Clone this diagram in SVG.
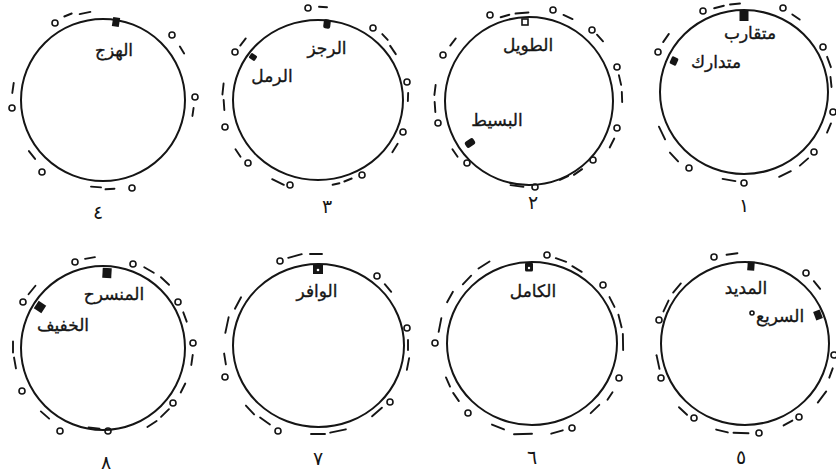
<svg xmlns="http://www.w3.org/2000/svg" width="836" height="474" viewBox="0 0 836 474">
<style>
.c{fill:none;stroke:#151515;stroke-width:2}
.o{fill:none;stroke:#151515;stroke-width:1.6}
.d{fill:none;stroke:#151515;stroke-width:1.9;stroke-linecap:round}
.m{fill:#151515}
.w{fill:#fff}
.t{font-family:"DejaVu Sans",sans-serif;font-size:17px;fill:#151515;stroke:#151515;stroke-width:0.35;text-anchor:middle}
.n{font-family:"DejaVu Sans",sans-serif;font-size:19px;fill:#151515;text-anchor:middle}
</style>
<rect width="836" height="474" fill="#fff"/>

<g id="circle4">
<ellipse class="c" cx="103" cy="100" rx="82" ry="81"/>
<circle class="o" cx="55" cy="23" r="3"/>
<path class="d" d="M-4 0h8" transform="translate(68 15) rotate(-22)"/>
<path class="d" d="M-5.5 0h11" transform="translate(85 13) rotate(-12)"/>
<rect class="m" x="-3.5" y="-4.5" width="7" height="9" transform="translate(116 22) rotate(9)"/>
<circle class="o" cx="172" cy="35" r="3"/>
<path class="d" d="M-4 0h8" transform="translate(182 50) rotate(58)"/>
<circle class="o" cx="195" cy="97" r="3"/>
<path class="d" d="M-4 0h8" transform="translate(193 112) rotate(98)"/>
<path class="d" d="M-5 0h10" transform="translate(96 187) rotate(184)"/>
<path class="d" d="M-4.5 0h9" transform="translate(110 189) rotate(176)"/>
<circle class="o" cx="132" cy="188" r="3"/>
<circle class="o" cx="42" cy="172" r="3"/>
<path class="d" d="M-5 0h10" transform="translate(32 155) rotate(232)"/>
<circle class="o" cx="12" cy="108" r="3"/>
<path class="d" d="M-5 0h10" transform="translate(13 88) rotate(278)"/>
<text class="t" x="114" y="56">الهزج</text>
<text class="n" x="98" y="219">٤</text>
</g>

<g id="circle3">
<ellipse class="c" cx="318" cy="100" rx="85" ry="80"/>
<circle class="o" cx="308" cy="8" r="3"/>
<path class="d" d="M-4 0h8" transform="translate(323 7) rotate(3)"/>
<rect class="m" x="-3.5" y="-4.5" width="7" height="9" rx="2" transform="translate(327 24) rotate(7)"/>
<circle class="o" cx="373" cy="28" r="3"/>
<path class="d" d="M-4 0h8" transform="translate(385 37) rotate(47)"/>
<path class="d" d="M-5 0h10" transform="translate(393 50) rotate(56)"/>
<circle class="o" cx="407" cy="82" r="3"/>
<path class="d" d="M-4 0h8" transform="translate(408 97) rotate(92)"/>
<circle class="o" cx="403" cy="132" r="3"/>
<path class="d" d="M-5 0h10" transform="translate(395 148) rotate(122)"/>
<circle class="o" cx="362" cy="175" r="3"/>
<path class="d" d="M-4 0h8" transform="translate(348 180) rotate(158)"/>
<path class="d" d="M-3.5 0h7" transform="translate(336 184) rotate(168)"/>
<circle class="o" cx="290" cy="185" r="3"/>
<path class="d" d="M-6.5 0h13" transform="translate(278 182) rotate(206)"/>
<circle class="o" cx="248" cy="163" r="3"/>
<path class="d" d="M-4.5 0h9" transform="translate(238 153) rotate(236)"/>
<circle class="o" cx="225" cy="127" r="3"/>
<path class="d" d="M-5 0h10" transform="translate(224 105) rotate(266)"/>
<path class="d" d="M-5.5 0h11" transform="translate(223 89) rotate(276)"/>
<circle class="o" cx="235" cy="52" r="3"/>
<path class="d" d="M-4.5 0h9" transform="translate(243 42) rotate(308)"/>
<rect class="m" x="-3" y="-3.5" width="6" height="7" rx="1.5" transform="translate(253 57) rotate(304)"/>
<text class="t" x="327" y="54">الرجز</text>
<text class="t" x="272" y="82">الرمل</text>
<text class="n" x="327" y="213">٣</text>
</g>

<g id="circle2">
<circle class="c" cx="529" cy="101" r="84"/>
<circle class="o" cx="490" cy="15" r="3"/>
<path class="d" d="M-4.5 0h9" transform="translate(505 16) rotate(-16)"/>
<path class="d" d="M-6.5 0h13" transform="translate(522 13) rotate(-5)"/>
<rect class="o" x="522" y="19" width="6" height="6"/>
<circle class="o" cx="553" cy="10" r="3"/>
<path class="d" d="M-5 0h10" transform="translate(568 17) rotate(25)"/>
<circle class="o" cx="592" cy="30" r="3"/>
<path class="d" d="M-4.5 0h9" transform="translate(600 38) rotate(48)"/>
<circle class="o" cx="617" cy="67" r="3"/>
<path class="d" d="M-5 0h10" transform="translate(620 80) rotate(77)"/>
<path class="d" d="M-5 0h10" transform="translate(622 97) rotate(88)"/>
<circle class="o" cx="617" cy="128" r="3"/>
<path class="d" d="M-5 0h10" transform="translate(612 143) rotate(117)"/>
<circle class="o" cx="593" cy="160" r="3"/>
<path class="d" d="M-5 0h10" transform="translate(578 172) rotate(145)"/>
<path class="d" d="M-4.5 0h9" transform="translate(564 178) rotate(155)"/>
<circle class="o" cx="535" cy="187" r="3"/>
<path class="d" d="M-6.5 0h13" transform="translate(517 186) rotate(188)"/>
<circle class="o" cx="467" cy="163" r="3"/>
<path class="d" d="M-4.5 0h9" transform="translate(455 153) rotate(235)"/>
<rect class="m" x="-3.5" y="-5" width="7" height="10" rx="2.5" transform="translate(470 143) rotate(235)"/>
<circle class="o" cx="438" cy="123" r="3"/>
<path class="d" d="M-5 0h10" transform="translate(435 107) rotate(266)"/>
<path class="d" d="M-5 0h10" transform="translate(435 90) rotate(277)"/>
<circle class="o" cx="443" cy="55" r="3"/>
<path class="d" d="M-4.5 0h9" transform="translate(453 42) rotate(308)"/>
<text class="t" x="528" y="51">الطويل</text>
<text class="t" x="497" y="126">البسيط</text>
<text class="n" x="533" y="209">٢</text>
</g>

<g id="circle1">
<ellipse class="c" cx="744" cy="92" rx="84" ry="82"/>
<circle class="o" cx="703" cy="11" r="3"/>
<path class="d" d="M-5 0h10" transform="translate(719 7) rotate(-14)"/>
<path class="d" d="M-5 0h10" transform="translate(735 4) rotate(-5)"/>
<rect class="m" x="-4.5" y="-5" width="9" height="10" transform="translate(744 16)"/>
<circle class="o" cx="783" cy="8" r="3"/>
<path class="d" d="M-4.5 0h9" transform="translate(796 17) rotate(35)"/>
<circle class="o" cx="823" cy="47" r="3"/>
<path class="d" d="M-5.5 0h11" transform="translate(829 62) rotate(70)"/>
<path class="d" d="M-5 0h10" transform="translate(831 82) rotate(84)"/>
<circle class="o" cx="833" cy="112" r="3"/>
<path class="d" d="M-5 0h10" transform="translate(829 128) rotate(113)"/>
<circle class="o" cx="814" cy="152" r="3"/>
<path class="d" d="M-5.5 0h11" transform="translate(804 162) rotate(139)"/>
<path class="d" d="M-6.5 0h13" transform="translate(785 174) rotate(154)"/>
<circle class="o" cx="744" cy="183" r="3"/>
<path class="d" d="M-6.5 0h13" transform="translate(729 180) rotate(190)"/>
<circle class="o" cx="689" cy="168" r="3"/>
<path class="d" d="M-6 0h12" transform="translate(674 157) rotate(227)"/>
<path class="d" d="M-7 0h14" transform="translate(662 133) rotate(244)"/>
<circle class="o" cx="658" cy="52" r="3"/>
<path class="d" d="M-5 0h10" transform="translate(666 38) rotate(305)"/>
<rect class="m" x="-4" y="-3.5" width="8" height="7" rx="1.5" transform="translate(674 61) rotate(294)"/>
<text class="t" x="750" y="39">متقارب</text>
<text class="t" x="716" y="68">متدارك</text>
<text class="n" x="744" y="212">١</text>
</g>

<g id="circle8">
<circle class="c" cx="103" cy="348" r="82"/>
<circle class="o" cx="75" cy="262" r="3"/>
<path class="d" d="M-5 0h10" transform="translate(90 258) rotate(-10)"/>
<rect class="m" x="-4.5" y="-5" width="9" height="10" transform="translate(107 273) rotate(3)"/>
<circle class="o" cx="133" cy="264" r="3"/>
<path class="d" d="M-5.5 0h11" transform="translate(149 270) rotate(30)"/>
<path class="d" d="M-5.5 0h11" transform="translate(165 281) rotate(43)"/>
<circle class="o" cx="178" cy="302" r="3"/>
<path class="d" d="M-5 0h10" transform="translate(185 317) rotate(70)"/>
<circle class="o" cx="193" cy="343" r="3"/>
<path class="d" d="M-5 0h10" transform="translate(192 360) rotate(98)"/>
<path class="d" d="M-5 0h10" transform="translate(183 388) rotate(117)"/>
<circle class="o" cx="173" cy="403" r="3"/>
<path class="d" d="M-5.5 0h11" transform="translate(165 413) rotate(136)"/>
<path class="d" d="M-5.5 0h11" transform="translate(152 424) rotate(147)"/>
<circle class="o" cx="108" cy="431" r="3"/>
<path class="d" d="M-5.5 0h11" transform="translate(94 428) rotate(186)"/>
<circle class="o" cx="60" cy="431" r="3"/>
<path class="d" d="M-5.5 0h11" transform="translate(45 415) rotate(221)"/>
<circle class="o" cx="22" cy="391" r="3"/>
<path class="d" d="M-5.5 0h11" transform="translate(15 363) rotate(260)"/>
<path class="d" d="M-5.5 0h11" transform="translate(13 347) rotate(270)"/>
<circle class="o" cx="23" cy="302" r="3"/>
<path class="d" d="M-5.5 0h11" transform="translate(32 290) rotate(309)"/>
<rect class="m" x="-4.5" y="-4.5" width="9" height="9" transform="translate(40 307) rotate(303)"/>
<text class="t" x="114" y="300">المنسرح</text>
<text class="t" x="63" y="331">الخفيف</text>
<text class="n" x="106" y="469">٨</text>
</g>

<g id="circle7">
<ellipse class="c" cx="318.5" cy="345.5" rx="85.5" ry="81.5"/>
<circle class="o" cx="280" cy="261" r="3"/>
<path class="d" d="M-7 0h14" transform="translate(295 256) rotate(-15)"/>
<path class="d" d="M-6 0h12" transform="translate(316 254) rotate(0)"/>
<rect class="m" x="-5" y="-5" width="10" height="10" transform="translate(318 269)"/>
<circle class="w" cx="318" cy="270" r="1.3"/>
<circle class="o" cx="377" cy="276" r="3"/>
<path class="d" d="M-5 0h10" transform="translate(388 288) rotate(50)"/>
<circle class="o" cx="407" cy="328" r="3"/>
<path class="d" d="M-5 0h10" transform="translate(408 345) rotate(90)"/>
<path class="d" d="M-6 0h12" transform="translate(408 364) rotate(101)"/>
<circle class="o" cx="390" cy="402" r="3"/>
<path class="d" d="M-6.5 0h13" transform="translate(377 412) rotate(139)"/>
<path class="d" d="M-8 0h16" transform="translate(338 431) rotate(168)"/>
<path class="d" d="M-7 0h14" transform="translate(318 434) rotate(180)"/>
<circle class="o" cx="278" cy="431" r="3"/>
<path class="d" d="M-6 0h12" transform="translate(265 421) rotate(215)"/>
<path class="d" d="M-6 0h12" transform="translate(250 410) rotate(227)"/>
<circle class="o" cx="225" cy="377" r="3"/>
<path class="d" d="M-5.5 0h11" transform="translate(225 359) rotate(261)"/>
<path class="d" d="M-8 0h16" transform="translate(227 325) rotate(282)"/>
<path class="d" d="M-6.5 0h13" transform="translate(238 303) rotate(298)"/>
<text class="t" x="317" y="297">الوافر</text>
<text class="n" x="318" y="465">٧</text>
</g>

<g id="circle6">
<ellipse class="c" cx="532" cy="343.5" rx="85" ry="81.5"/>
<circle class="o" cx="547" cy="255" r="3"/>
<path class="d" d="M-5.5 0h11" transform="translate(561 260) rotate(19)"/>
<path class="d" d="M-5.5 0h11" transform="translate(577 269) rotate(31)"/>
<rect class="m" x="-4" y="-4.5" width="8" height="9" rx="1.5" transform="translate(529 267)"/>
<circle class="w" cx="529" cy="268" r="1.2"/>
<circle class="o" cx="603" cy="285" r="3"/>
<path class="d" d="M-5.5 0h11" transform="translate(612 302) rotate(63)"/>
<path class="d" d="M-6.5 0h13" transform="translate(620 321) rotate(76)"/>
<path class="d" d="M-8 0h16" transform="translate(623 342) rotate(89)"/>
<circle class="o" cx="619" cy="378" r="3"/>
<path class="d" d="M-4.5 0h9" transform="translate(610 396) rotate(124)"/>
<path class="d" d="M-6 0h12" transform="translate(595 409) rotate(136)"/>
<circle class="o" cx="572" cy="428" r="3"/>
<path class="d" d="M-6 0h12" transform="translate(557 432) rotate(164)"/>
<path class="d" d="M-9 0h18" transform="translate(523 434) rotate(178)"/>
<path class="d" d="M-6.5 0h13" transform="translate(498 427) rotate(202)"/>
<circle class="o" cx="468" cy="413" r="3"/>
<path class="d" d="M-5 0h10" transform="translate(456 397) rotate(235)"/>
<path class="d" d="M-5 0h10" transform="translate(448 382) rotate(246)"/>
<circle class="o" cx="435" cy="343" r="3"/>
<path class="d" d="M-7 0h14" transform="translate(440 325) rotate(281)"/>
<path class="d" d="M-6 0h12" transform="translate(450 297) rotate(299)"/>
<path class="d" d="M-6 0h12" transform="translate(467 280) rotate(314)"/>
<path class="d" d="M-6.5 0h13" transform="translate(484 265) rotate(328)"/>
<text class="t" x="533" y="297">الكامل</text>
<text class="n" x="532" y="464">٦</text>
</g>

<g id="circle5">
<ellipse class="c" cx="745" cy="343.5" rx="84" ry="81.5"/>
<circle class="o" cx="714" cy="257" r="3"/>
<path class="d" d="M-5.5 0h11" transform="translate(732 254) rotate(-8)"/>
<rect class="m" x="-3.5" y="-4.5" width="7" height="9" transform="translate(751 266) rotate(4)"/>
<circle class="o" cx="806" cy="273" r="3"/>
<path class="d" d="M-5 0h10" transform="translate(817 285) rotate(51)"/>
<rect class="m" x="-4.5" y="-3.5" width="9" height="7" transform="translate(818 315) rotate(69)"/>
<circle class="o" cx="834" cy="355" r="3"/>
<path class="d" d="M-5 0h10" transform="translate(831 373) rotate(110)"/>
<path class="d" d="M-7 0h14" transform="translate(822 397) rotate(127)"/>
<circle class="o" cx="799" cy="417" r="3"/>
<path class="d" d="M-5 0h10" transform="translate(788 423) rotate(151)"/>
<circle class="o" cx="759" cy="433" r="3"/>
<path class="d" d="M-7.5 0h15" transform="translate(741 433) rotate(182)"/>
<path class="d" d="M-6 0h12" transform="translate(722 431) rotate(194)"/>
<circle class="o" cx="694" cy="418" r="3"/>
<path class="d" d="M-5.5 0h11" transform="translate(683 411) rotate(223)"/>
<circle class="o" cx="661" cy="378" r="3"/>
<path class="d" d="M-7 0h14" transform="translate(658 362) rotate(258)"/>
<circle class="o" cx="659" cy="320" r="3"/>
<path class="d" d="M-6 0h12" transform="translate(666 306) rotate(295)"/>
<path class="d" d="M-6 0h12" transform="translate(677 288) rotate(310)"/>
<text class="t" x="746" y="294">المديد</text>
<text class="t" x="780" y="322">السريع</text>
<circle class="o" cx="752" cy="313" r="2"/>
<text class="n" x="741" y="464">٥</text>
</g>
</svg>
